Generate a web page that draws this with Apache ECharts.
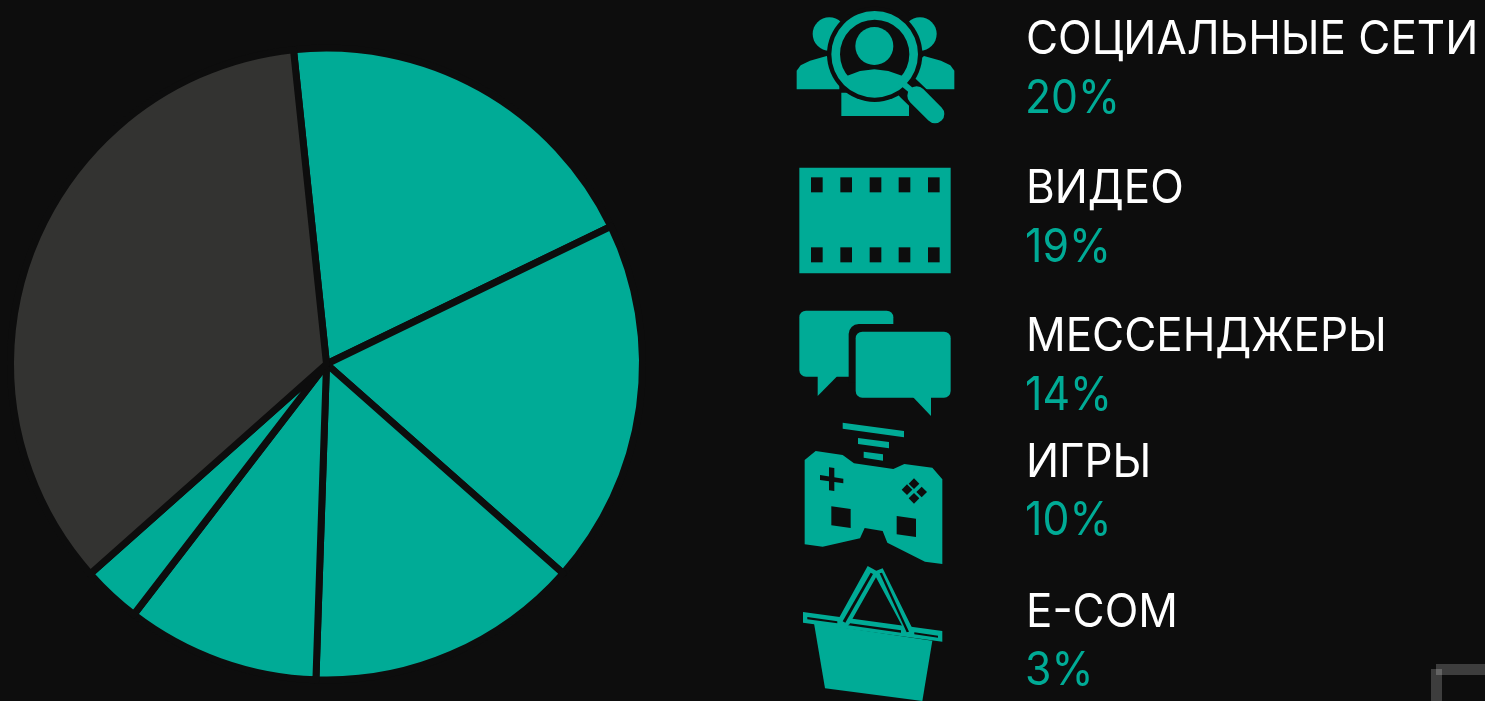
<!DOCTYPE html>
<html>
<head>
<meta charset="utf-8">
<style>
  html, body { margin: 0; padding: 0; background: #0d0d0d; }
  #chart { width: 1485px; height: 701px; }
</style>
<script src="https://cdn.jsdelivr.net/npm/echarts@6/dist/echarts.min.js"></script>
</head>
<body>
<div id="chart"></div>
<script>
const categories = ["СОЦИАЛЬНЫЕ СЕТИ", "ВИДЕО", "МЕССЕНДЖЕРЫ", "ИГРЫ", "E-COM", "ДРУГОЕ"];
// slice shares
const shares = [19.5, 18.7, 14.0, 9.9, 3.0, 34.9];
const percentLabels = ["20%", "19%", "14%", "10%", "3%"];
const labelRows = [40, 189, 337, 463, 613];
const percentRows = [99, 248, 396, 521, 671];

const TEAL = "#00ab96";
const DARK = "#333331";
const BG = "#0d0d0d";

function poly(points, fill) {
  return { type: "polygon", shape: { points }, style: { fill: fill || TEAL } };
}
function box(x, y, width, height, fill, r) {
  return { type: "rect", shape: { x, y, width, height, r: r || 0 }, style: { fill: fill || TEAL } };
}
function disc(cx, cy, r, fill) {
  return { type: "circle", shape: { cx, cy, r }, style: { fill: fill || TEAL } };
}
// icons are traced in 3x zoomed coordinates, the group scales them back
function iconGroup(x, y, children) {
  return { type: "group", x, y, scaleX: 1 / 3, scaleY: 1 / 3, children };
}

const peopleIcon = [
  disc(148, 102, 50),
  disc(420, 102, 50),
  poly([[50, 268], [50, 212], [62, 196], [90, 182], [140, 168], [178, 200], [178, 268]]),
  poly([[523, 268], [523, 212], [511, 196], [483, 182], [432, 168], [395, 200], [395, 268]]),
  poly([[184, 348], [184, 278], [387, 278], [387, 348]]),
  disc(284, 163, 143, BG),
  { type: "line", shape: { x1: 385, y1: 265, x2: 465, y2: 342 }, style: { stroke: BG, lineWidth: 72, lineCap: "round" } },
  { type: "ring", shape: { cx: 284, cy: 163, r: 130, r0: 104 }, style: { fill: TEAL } },
  disc(283, 138, 57),
  poly([[200, 228], [240, 213], [283, 208], [325, 213], [368, 228], [360, 260], [320, 280], [283, 285], [245, 280], [210, 260]]),
  { type: "line", shape: { x1: 362, y1: 245, x2: 410, y2: 285 }, style: { stroke: TEAL, lineWidth: 18 } },
  { type: "line", shape: { x1: 410, y1: 287, x2: 465, y2: 342 }, style: { stroke: TEAL, lineWidth: 56, lineCap: "round" } }
];

const filmHoleX = [93, 181, 269, 356, 444];
const filmIcon = [box(58, 503, 454, 317)]
  .concat(filmHoleX.map((x) => box(x, 532, 35, 45, BG)))
  .concat(filmHoleX.map((x) => box(x, 742, 35, 45, BG)));

const chatIcon = [
  box(58, 62, 282, 198, TEAL, 20),
  poly([[113, 255], [113, 318], [170, 260], [170, 255]]),
  box(206, 102, 160, 175, BG, [30, 0, 0, 0]),
  box(227, 125, 285, 198, TEAL, 20),
  poly([[398, 320], [453, 378], [453, 320]])
];

const gamepadIcon = [
  poly([[188, 398], [372, 423], [372, 442], [188, 416]]),
  poly([[234, 444], [327, 456], [327, 475], [234, 462]]),
  poly([[251, 485], [309, 493], [309, 512], [251, 503]]),
  poly([[74, 510], [107, 483], [188, 495], [222, 520], [340, 537], [373, 522], [457, 533], [487, 568], [487, 822], [435, 815], [322, 758], [308, 723], [254, 714], [240, 745], [128, 770], [74, 763]]),
  poly([[147, 532], [163, 534], [163, 603], [147, 601]], BG),
  poly([[120, 555], [190, 566], [190, 580], [120, 570]], BG),
  poly([[402, 565], [418, 581], [402, 597], [386, 581]], BG),
  poly([[381, 583], [397, 599], [381, 615], [365, 599]], BG),
  poly([[425, 590], [441, 606], [425, 622], [409, 606]], BG),
  poly([[402, 609], [418, 625], [402, 641], [386, 625]], BG),
  poly([[154, 649], [212, 657], [212, 714], [154, 706]], BG),
  poly([[350, 678], [408, 686], [408, 741], [350, 733]], BG)
];

const basketIcon = [
  poly([[102, 220], [457, 272], [427, 453], [135, 415]]),
  poly([[69, 186], [487, 243], [487, 275], [69, 218]]),
  poly([[82, 201], [172, 214], [172, 220], [82, 208]], BG),
  poly([[205, 219], [363, 241], [363, 248], [205, 226]], BG),
  poly([[403, 247], [474, 257], [474, 263], [403, 253]], BG),
  poly([[263, 48], [289, 62], [308, 55], [402, 245], [378, 250], [288, 82], [207, 225], [172, 213]]),
  poly([[272, 68], [279, 72], [196, 218], [188, 214]], BG),
  poly([[299, 70], [306, 68], [387, 245], [380, 247]], BG)
];

const labelTexts = [];
percentLabels.forEach((pct, i) => {
  labelTexts.push({
    type: "text", x: 1026, y: labelRows[i], scaleX: 0.955,
    style: { text: categories[i], fill: "#ffffff", font: "400 46px Inter", textVerticalAlign: "middle" }
  });
  labelTexts.push({
    type: "text", x: 1025, y: percentRows[i], scaleX: 0.93,
    style: { text: pct, fill: TEAL, font: "400 46px Inter", textVerticalAlign: "middle" }
  });
});

const cornerMarks = [
  box(1436, 664, 49, 11, "rgba(255,255,255,0.2)"),
  box(1431, 669, 11, 32, "rgba(255,255,255,0.2)")
];

const chart = echarts.init(document.getElementById("chart"));
chart.setOption({
  animation: false,
  backgroundColor: BG,
  graphic: {
    elements: [
      iconGroup(780, 0, peopleIcon.concat(filmIcon)),
      iconGroup(780, 290, chatIcon.concat(gamepadIcon)),
      iconGroup(780, 550, basketIcon)
    ].concat(labelTexts, cornerMarks)
  },
  series: [
    {
      type: "pie",
      center: [326.5, 364],
      radius: [0, 316],
      startAngle: 96,
      silent: true,
      label: { show: false },
      labelLine: { show: false },
      itemStyle: { borderColor: BG, borderWidth: 7 },
      data: categories.map((name, i) => ({
        name,
        value: shares[i],
        itemStyle: { color: i === 5 ? DARK : TEAL }
      }))
    }
  ]
});
</script>
</body>
</html>
